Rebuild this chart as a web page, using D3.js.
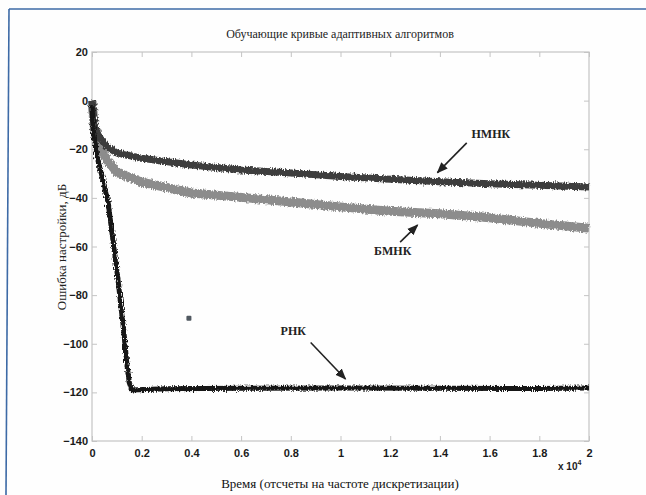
<!DOCTYPE html>
<html><head><meta charset="utf-8">
<script src="https://cdn.jsdelivr.net/npm/d3@7"></script>
<style>
body{margin:0;background:#fff;}
svg{display:block;}
</style></head>
<body><svg id="c" width="646" height="495"></svg>
<script>
// ---- data (x in units of 10^4 samples, y in dB) ----
const title = "Обучающие кривые адаптивных алгоритмов";
const xLabel = "Время (отсчеты на частоте дискретизации)";
const yLabel = "Ошибка настройки, дБ";
const xTicks = [0,0.2,0.4,0.6,0.8,1,1.2,1.4,1.6,1.8,2];
const yTicks = [20,0,-20,-40,-60,-80,-100,-120,-140];

const nmnkX = [0,0.01,0.03,0.06,0.1,0.2,0.4,0.6,0.8,1.0,1.2,1.4,1.6,1.8,2.0];
const nmnkY = [0,-10,-15,-19,-21.5,-23.7,-26.5,-28.5,-29.8,-31.2,-32.3,-33.4,-34.2,-34.8,-35.5];

const bmnkX = [0,0.01,0.03,0.06,0.1,0.2,0.4,0.6,0.8,1.0,1.2,1.4,1.6,1.8,2.0];
const bmnkY = [0,-12,-19,-24.5,-29.4,-33.5,-38,-39.8,-41.7,-43.7,-45.5,-46.5,-48.2,-50.5,-52.5];

const rnkX = [0,0.005,0.02,0.04,0.065,0.085,0.105,0.13,0.14,0.15,0.16,0.3,0.6,1.0,1.4,1.8,2.0];
const rnkY = [-2,-12,-23,-31,-42,-58,-74,-97,-108,-116,-119,-118.5,-118.3,-118.2,-118.3,-118.4,-118.2];

const stray = [{x:0.39, y:-89.5}];

const labels = [
  {name:"НМНК", tx:1.605, ty:-15.3, ax0:1.508, ay0:-17.4, ax1:1.39, ay1:-29.6},
  {name:"БМНК", tx:1.21, ty:-63.5, ax0:1.24, ay0:-58.2, ax1:1.31, ay1:-51.2},
  {name:"РНК",  tx:0.81, ty:-96.6, ax0:0.88, ay0:-99.5, ax1:1.02, ay1:-114.5}
];

// ---- layout ----
const svg = d3.select("#c");
const L = 92, R = 589, T = 52, B = 441;
const x = d3.scaleLinear().domain([0,2]).range([L,R]);
const y = d3.scaleLinear().domain([-140,20]).range([B,T]);

// outer scan frame
svg.append("rect").attr("width",646).attr("height",495).attr("fill","#fefefe");
svg.append("line").attr("x1",9).attr("x2",646).attr("y1",9).attr("y2",9)
  .attr("stroke","#3d6aa6").attr("stroke-width",1.6);
svg.append("line").attr("x1",9).attr("x2",6).attr("y1",9).attr("y2",495)
  .attr("stroke","#3d6aa6").attr("stroke-width",1.6);

const defs = svg.append("defs");
const f = defs.append("filter").attr("id","rough").attr("x","-5%").attr("y","-20%").attr("width","110%").attr("height","140%");
f.append("feTurbulence").attr("type","fractalNoise").attr("baseFrequency","0.9 0.35").attr("numOctaves",2).attr("seed",3).attr("result","n");
f.append("feDisplacementMap").attr("in","SourceGraphic").attr("in2","n").attr("scale",5).attr("xChannelSelector","R").attr("yChannelSelector","G");

// axes box
const axC = "#c4c4c4";
svg.append("rect").attr("x",L).attr("y",T).attr("width",R-L).attr("height",B-T)
  .attr("fill","none").attr("stroke",axC).attr("stroke-width",1.2);

const xb = svg.append("g").attr("transform",`translate(0,${B})`)
  .call(d3.axisBottom(x).tickValues(xTicks).tickSize(-5).tickPadding(8).tickFormat(d=>String(+d.toFixed(1))));
const xt = svg.append("g").attr("transform",`translate(0,${T})`)
  .call(d3.axisTop(x).tickValues(xTicks).tickSize(-5).tickFormat(""));
const yl = svg.append("g").attr("transform",`translate(${L},0)`)
  .call(d3.axisLeft(y).tickValues(yTicks).tickSize(-5).tickPadding(4));
const yr = svg.append("g").attr("transform",`translate(${R},0)`)
  .call(d3.axisRight(y).tickValues(yTicks).tickSize(-5).tickFormat(""));
[xb,xt,yl,yr].forEach(g=>{
  g.select(".domain").remove();
  g.selectAll(".tick line").attr("stroke",axC);
  g.selectAll("text").attr("fill","#1a1a1a").attr("font-family","Liberation Sans, Arial, sans-serif")
    .attr("font-size",11).attr("font-weight","bold");
});

// curves
const line = d3.line().x(d=>x(d[0])).y(d=>y(d[1]));
const zip = (a,b)=>a.map((v,i)=>[v,b[i]]);
const g = svg.append("g");
g.append("path").datum(zip(bmnkX,bmnkY)).attr("d",line).attr("fill","none")
  .attr("stroke","#8c8c8c").attr("stroke-width",9).attr("stroke-linejoin","round").attr("filter","url(#rough)");
g.append("path").datum(zip(nmnkX,nmnkY)).attr("d",line).attr("fill","none")
  .attr("stroke","#3e3e3e").attr("stroke-width",7).attr("stroke-linejoin","round").attr("filter","url(#rough)");
g.append("path").datum(zip(rnkX,rnkY)).attr("d",line).attr("fill","none")
  .attr("stroke","#141414").attr("stroke-width",5).attr("stroke-linejoin","round").attr("filter","url(#rough)");

g.selectAll("rect.stray").data(stray).join("rect").attr("class","stray")
  .attr("x",d=>x(d.x)-2.5).attr("y",d=>y(d.y)-2.5).attr("width",5).attr("height",5).attr("rx",1)
  .attr("fill","#505860");

// annotations
defs.append("marker").attr("id","ah").attr("viewBox","0 0 10 10").attr("refX",9).attr("refY",5)
  .attr("markerWidth",7).attr("markerHeight",7).attr("orient","auto")
  .append("path").attr("d","M0,1 L10,5 L0,9 Z").attr("fill","#222");
const an = svg.append("g").selectAll("g").data(labels).join("g");
an.append("text").attr("x",d=>x(d.tx)).attr("y",d=>y(d.ty)).attr("text-anchor","middle")
  .attr("font-family","Liberation Serif, Times New Roman, serif").attr("font-size",12).attr("font-weight","bold")
  .attr("fill","#222").text(d=>d.name);
an.append("line").attr("x1",d=>x(d.ax0)).attr("y1",d=>y(d.ay0)).attr("x2",d=>x(d.ax1)).attr("y2",d=>y(d.ay1))
  .attr("stroke","#222").attr("stroke-width",1.6).attr("marker-end","url(#ah)");

// texts
svg.append("text").attr("x",340).attr("y",38).attr("text-anchor","middle")
  .attr("font-family","Liberation Serif, Times New Roman, serif").attr("font-size",12).attr("fill","#222").text(title);
svg.append("text").attr("x",340).attr("y",488).attr("text-anchor","middle")
  .attr("font-family","Liberation Serif, Times New Roman, serif").attr("font-size",13).attr("fill","#111").text(xLabel);
svg.append("text").attr("transform","translate(66,247) rotate(-90)").attr("text-anchor","middle")
  .attr("font-family","Liberation Serif, Times New Roman, serif").attr("font-size",13).attr("fill","#222").text(yLabel);
const e = svg.append("text").attr("x",558).attr("y",470)
  .attr("font-family","Liberation Sans, Arial, sans-serif").attr("font-size",10).attr("font-weight","bold").attr("fill","#222");
e.append("tspan").text("x 10");
e.append("tspan").attr("dy",-5).attr("font-size",7).text("4");
</script></body></html>
